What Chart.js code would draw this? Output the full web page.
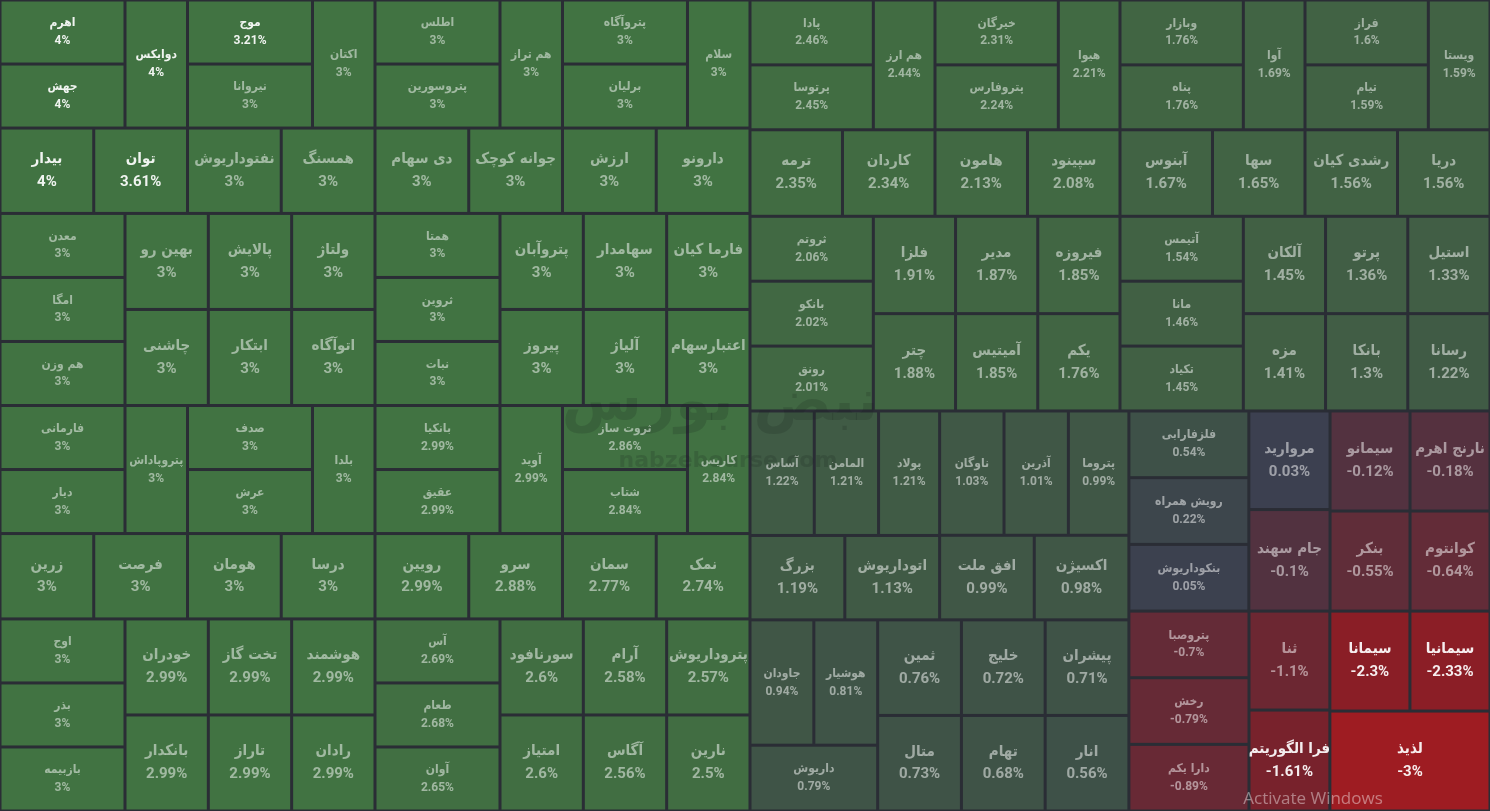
<!DOCTYPE html>
<html lang="fa">
<head>
<meta charset="UTF-8">
<title>نقشه بازار</title>
<script src="https://cdn.jsdelivr.net/npm/chart.js@4.4.1/dist/chart.umd.min.js"></script>
<style>
  html, body { margin: 0; padding: 0; background: #2a2d35; overflow: hidden; }
  #wrap { width: 1490px; height: 811px; }
</style>
</head>
<body>
<div id="wrap"><canvas id="map" width="1490" height="811"></canvas></div>
<script>
// symbols in layout order (sorted by change, high to low)
const symbols = [
  'اهرم', 'جهش', 'دوایکس', 'بیدار', 'توان', 'موج', 'نیروانا', 'اکتان', 'نفتوداریوش', 'همسنگ',
  'معدن', 'امگا', 'هم وزن', 'بهین رو', 'چاشنی', 'پالایش', 'ولتاژ', 'ابتکار', 'اتوآگاه',
  'اطلس', 'پتروسورین', 'هم تراز', 'دی سهام', 'جوانه کوچک', 'پتروآگاه', 'برلیان', 'سلام', 'ارزش', 'دارونو',
  'همتا', 'ثروین', 'نبات', 'پتروآبان', 'پیروز', 'سهامدار', 'فارما کیان', 'آلیاژ', 'اعتبارسهام',
  'فارمانی', 'دیار', 'پتروپاداش', 'زرین', 'فرصت', 'صدف', 'عرش', 'بلدا', 'هومان', 'درسا',
  'اوج', 'بذر', 'بازبیمه', 'خودران', 'بانکدار', 'تخت گاز', 'هوشمند', 'تاراز', 'رادان',
  'بانکیا', 'عقیق', 'آوید', 'رویین', 'سرو', 'ثروت ساز', 'شتاب', 'کاریس', 'سمان', 'نمک',
  'آس', 'طعام', 'آوان', 'سورنافود', 'امتیاز', 'آرام', 'پتروداریوش', 'آگاس', 'نارین',
  'پادا', 'پرتوسا', 'هم ارز', 'ترمه', 'کاردان', 'خیرگان', 'پتروفارس', 'هیوا', 'هامون', 'سپینود',
  'ثروتم', 'بانکو', 'رونق', 'فلزا', 'چتر', 'مدیر', 'فیروزه', 'آمیتیس', 'یکم',
  'وبازار', 'پناه', 'آوا', 'آبنوس', 'سها', 'فراز', 'تیام', 'ویستا', 'رشدی کیان', 'دریا',
  'آتیمس', 'مانا', 'تکیاد', 'آلکان', 'مزه', 'پرتو', 'استیل', 'بانکا', 'رسانا',
  'آساس', 'المامن', 'پولاد', 'بزرگ', 'اتوداریوش', 'ناوگان', 'آذرین', 'پتروما', 'افق ملت', 'اکسیژن',
  'جاودان', 'هوشیار', 'داریوش', 'ثمین', 'متال', 'خلیج', 'پیشران', 'تهام', 'انار',
  'فلزفارابی', 'رویش همراه', 'بنکوداریوش', 'مروارید', 'جام سهند', 'سیمانو', 'نارنج اهرم', 'بنکر', 'کوانتوم',
  'پتروصبا', 'رخش', 'دارا یکم', 'ثنا', 'فرا الگوریتم', 'سیمانا', 'سیمانیا', 'لذیذ'
];

// daily change, percent
const changes = [
  4, 4, 4, 4, 3.61, 3.21, 3, 3, 3, 3,
  3, 3, 3, 3, 3, 3, 3, 3, 3,
  3, 3, 3, 3, 3, 3, 3, 3, 3, 3,
  3, 3, 3, 3, 3, 3, 3, 3, 3,
  3, 3, 3, 3, 3, 3, 3, 3, 3, 3,
  3, 3, 3, 2.99, 2.99, 2.99, 2.99, 2.99, 2.99,
  2.99, 2.99, 2.99, 2.99, 2.88, 2.86, 2.84, 2.84, 2.77, 2.74,
  2.69, 2.68, 2.65, 2.6, 2.6, 2.58, 2.57, 2.56, 2.5,
  2.46, 2.45, 2.44, 2.35, 2.34, 2.31, 2.24, 2.21, 2.13, 2.08,
  2.06, 2.02, 2.01, 1.91, 1.88, 1.87, 1.85, 1.85, 1.76,
  1.76, 1.76, 1.69, 1.67, 1.65, 1.6, 1.59, 1.59, 1.56, 1.56,
  1.54, 1.46, 1.45, 1.45, 1.41, 1.36, 1.33, 1.3, 1.22,
  1.22, 1.21, 1.21, 1.19, 1.13, 1.03, 1.01, 0.99, 0.99, 0.98,
  0.94, 0.81, 0.79, 0.76, 0.73, 0.72, 0.71, 0.68, 0.56,
  0.54, 0.22, 0.05, 0.03, -0.1, -0.12, -0.18, -0.55, -0.64,
  -0.7, -0.79, -0.89, -1.1, -1.61, -2.3, -2.33, -3
];

// cell size value
const weights = [
  1, 1, 1, 1, 1, 1, 1, 1, 1, 1,
  1, 1, 1, 1, 1, 1, 1, 1, 1,
  1, 1, 1, 1, 1, 1, 1, 1, 1, 1,
  1, 1, 1, 1, 1, 1, 1, 1, 1,
  1, 1, 1, 1, 1, 1, 1, 1, 1, 1,
  1, 1, 1, 1, 1, 1, 1, 1, 1,
  1, 1, 1, 1, 1, 1, 1, 1, 1, 1,
  1, 1, 1, 1, 1, 1, 1, 1, 1,
  1, 1, 1, 1, 1, 1, 1, 1, 1, 1,
  1, 1, 1, 1, 1, 1, 1, 1, 1,
  1, 1, 1, 1, 1, 1, 1, 1, 1, 1,
  1, 1, 1, 1, 1, 1, 1, 1, 1,
  1, 1, 0.95, 1, 1, 1, 1, 0.94, 1, 1,
  1, 1, 1.05, 1, 1, 1, 1, 1, 1,
  1, 1, 1, 1, 1.03, 1, 1, 1, 1,
  1, 1, 1, 1, 1.02, 1, 1, 2
];

const mapWidth = 1490;
const mapHeight = 811;

// binary treemap: split the list where the running sum passes half,
// cut along the longer side
function binaryLayout(items, x0, y0, x1, y1, out) {
  if (items.length === 1) {
    out.push(Object.assign({}, items[0], { x0, y0, x1, y1 }));
    return;
  }
  let total = 0;
  items.forEach(d => total += d.w);
  const target = total / 2;
  let k = 1, sum = items[0].w;
  while (k < items.length - 1 && sum < target) {
    sum += items[k].w;
    k++;
  }
  const left = items.slice(0, k), right = items.slice(k);
  if ((x1 - x0) > (y1 - y0)) {
    const xk = x0 + (x1 - x0) * sum / total;
    binaryLayout(left, x0, y0, xk, y1, out);
    binaryLayout(right, xk, y0, x1, y1, out);
  } else {
    const yk = y0 + (y1 - y0) * sum / total;
    binaryLayout(left, x0, y0, x1, yk, out);
    binaryLayout(right, x0, yk, x1, y1, out);
  }
}

const items = symbols.map((s, i) => ({ name: s, change: changes[i], w: weights[i] }));
const cells = [];
binaryLayout(items, 0, 0, mapWidth, mapHeight, cells);

const colorStops = [
  [-3, [158, 28, 34]], [-2.3, [138, 30, 38]], [-1.6, [120, 34, 44]], [-1.1, [108, 39, 50]],
  [-0.6, [98, 44, 56]], [-0.1, [82, 50, 64]], [0, [60, 63, 80]], [0.5, [62, 80, 72]],
  [1, [64, 87, 70]], [1.5, [65, 97, 68]], [2, [65, 104, 67]], [2.5, [65, 109, 66]], [3, [65, 115, 66]]
];

function cellColor(c) {
  c = Math.max(-3, Math.min(3, c));
  for (let i = 0; i < colorStops.length - 1; i++) {
    const [a, ca] = colorStops[i], [b, cb] = colorStops[i + 1];
    if (c >= a && c <= b) {
      const t = (c - a) / (b - a);
      const rgb = ca.map((v, j) => Math.round(v + (cb[j] - v) * t));
      return 'rgb(' + rgb.join(',') + ')';
    }
  }
  return 'rgb(60,63,80)';
}

const nameFont = '"DejaVu Sans Condensed", "DejaVu Sans"';

const treemapPlugin = {
  id: 'treemapCells',
  beforeDraw(chart) {
    const ctx = chart.ctx;
    ctx.save();
    ctx.fillStyle = '#2a2d35';
    ctx.fillRect(0, 0, chart.width, chart.height);
    ctx.restore();
  },
  afterDatasetsDraw(chart) {
    const ctx = chart.ctx;
    const xs = chart.scales.x, ys = chart.scales.y;
    const gap = 1.5;
    ctx.save();
    const boxes = cells.map(c => {
      const px0 = xs.getPixelForValue(c.x0), px1 = xs.getPixelForValue(c.x1);
      const py0 = ys.getPixelForValue(c.y0), py1 = ys.getPixelForValue(c.y1);
      return { c, l: Math.min(px0, px1), r: Math.max(px0, px1), t: Math.min(py0, py1), b: Math.max(py0, py1) };
    });
    boxes.forEach(bx => {
      ctx.fillStyle = cellColor(bx.c.change);
      ctx.fillRect(bx.l + gap, bx.t + gap, bx.r - bx.l - 2 * gap, bx.b - bx.t - 2 * gap);
    });

    // watermark
    ctx.textAlign = 'center';
    ctx.textBaseline = 'middle';
    ctx.fillStyle = 'rgba(20, 35, 28, 0.18)';
    ctx.font = 'bold 58px "DejaVu Sans"';
    ctx.fillText('نبض بورس', 720, 405);
    ctx.font = 'bold 22px "DejaVu Sans"';
    ctx.fillText('nabzebourse.com', 728, 461);

    boxes.forEach(bx => {
      const w = bx.r - bx.l, h = bx.b - bx.t;
      const cx = (bx.l + bx.r) / 2, cy = (bx.t + bx.b) / 2;
      const big = Math.min(w, h) >= 75;
      const c = bx.c.change;
      const strong = c > 3.1 || c < -1.5;
      ctx.fillStyle = strong ? 'rgba(255,255,255,0.92)' : 'rgba(255,255,255,0.5)';
      const off = big ? 11.5 : 9;
      ctx.font = (big ? 'bold 15px ' : 'bold 12px ') + nameFont;
      ctx.fillText(bx.c.name, cx, cy - off);
      ctx.font = big ? 'bold 15px Roboto' : 'bold 12px Roboto';
      ctx.fillText(String(c) + '%', cx, cy + off);
    });

    ctx.font = '17px "Open Sans"';
    ctx.fillStyle = 'rgba(255,255,255,0.42)';
    ctx.fillText('Activate Windows', 1313, 799);
    ctx.restore();
  }
};

const ctx = document.getElementById('map').getContext('2d');
const chart = new Chart(ctx, {
  type: 'scatter',
  data: {
    datasets: [{
      data: cells.map(c => ({ x: (c.x0 + c.x1) / 2, y: (c.y0 + c.y1) / 2 })),
      pointRadius: 0,
      pointHoverRadius: 0
    }]
  },
  options: {
    responsive: false,
    animation: false,
    layout: { padding: 0 },
    plugins: {
      legend: { display: false },
      tooltip: { enabled: false }
    },
    scales: {
      x: { type: 'linear', min: 0, max: mapWidth, display: false },
      y: { type: 'linear', min: 0, max: mapHeight, reverse: true, display: false }
    }
  },
  plugins: [treemapPlugin]
});
</script>
</body>
</html>
